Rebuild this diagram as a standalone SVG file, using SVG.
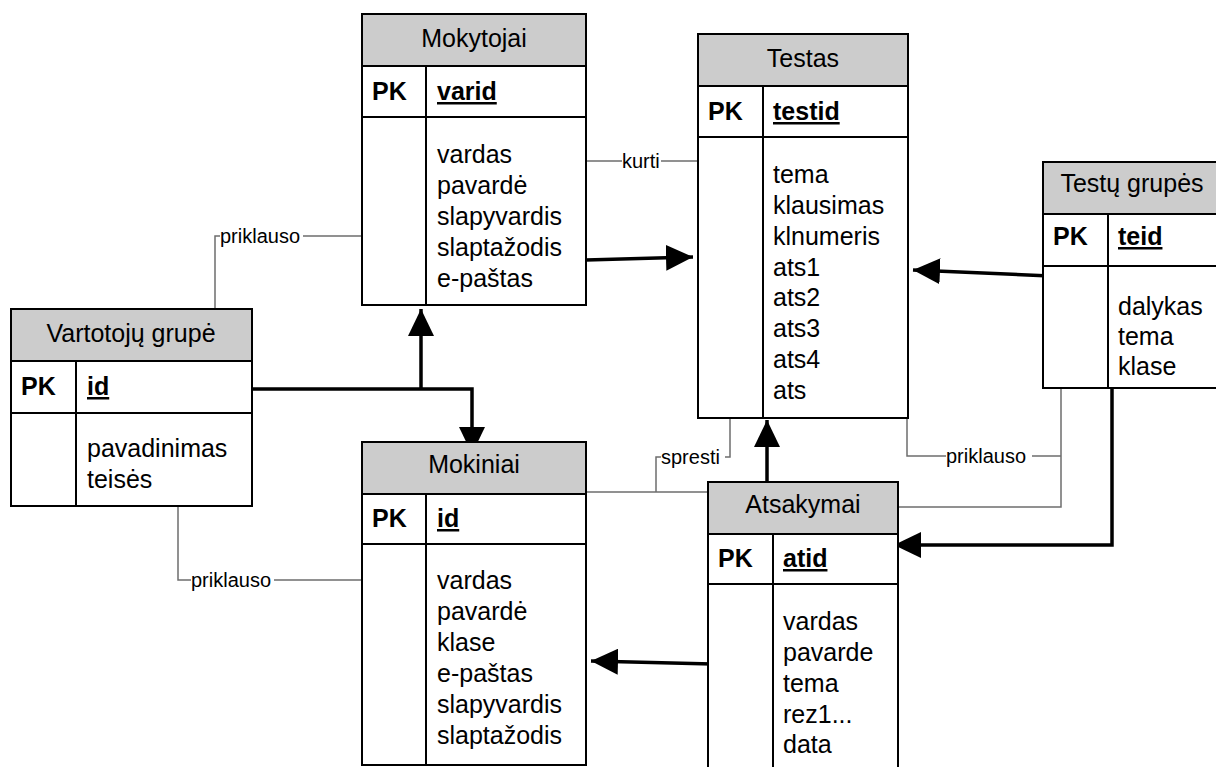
<svg xmlns="http://www.w3.org/2000/svg" width="1216" height="767" viewBox="0 0 1216 767">
<style>
.box{fill:#fff;stroke:#000;stroke-width:2}
.hdr{fill:#cccccc;stroke:#000;stroke-width:2}
.ln{stroke:#000;stroke-width:2;fill:none}
.t{font-family:"Liberation Sans",Arial,sans-serif;font-size:25px;fill:#000}
.c{text-anchor:middle}
.b{font-weight:bold}
.u{font-weight:bold;text-decoration:underline}
.thin{stroke:#6e6e6e;stroke-width:1.5;fill:none}
.thick{stroke:#000;stroke-width:3.5;fill:none}
.lbl{font-family:"Liberation Sans",Arial,sans-serif;font-size:20px;fill:#000}
</style>
<defs>
<marker id="ah" viewBox="0 0 27 26" refX="27" refY="13" markerWidth="27" markerHeight="26" markerUnits="userSpaceOnUse" orient="auto">
<path d="M0,0 L27,13 L0,26 Z" fill="#000"/>
</marker>
</defs>
<rect width="1216" height="767" fill="#fff"/>

<g id="connectors">
<!-- kurti -->
<path class="thin" d="M583,161 H622 M661,161 H700"/>
<text class="lbl" x="622" y="168">kurti</text>
<!-- priklauso upper -->
<path class="thin" d="M215,309 V236 H220 M303,236 H362"/>
<text class="lbl" x="220" y="243">priklauso</text>
<!-- priklauso lower -->
<path class="thin" d="M178,506 V580 H191 M274,580 H362"/>
<text class="lbl" x="191" y="587">priklauso</text>
<!-- spresti -->
<path class="thin" d="M586,492 H714 M656,492 V457 H661 M725,457 H730 V419"/>
<text class="lbl" x="661" y="464">spresti</text>
<!-- priklauso right -->
<path class="thin" d="M907,397 V456 H946 M1032,456 H1061 M1061,388 V507 H898"/>
<text class="lbl" x="946" y="463">priklauso</text>
<!-- thick arrows -->
<path class="thick" d="M252,389 H472 V454" marker-end="url(#ah)"/>
<path class="thick" d="M421,389 V309" marker-end="url(#ah)"/>
<path class="thick" d="M586,260 L693,257" marker-end="url(#ah)"/>
<path class="thick" d="M767,482 V420" marker-end="url(#ah)"/>
<path class="thick" d="M1050,276 L913,270" marker-end="url(#ah)"/>
<path class="thick" d="M1112,388 V545 H894" marker-end="url(#ah)"/>
<path class="thick" d="M712,664 L591,661" marker-end="url(#ah)"/>
</g>

<g id="mokytojai">
<rect class="box" x="362" y="14" width="224" height="291"/>
<rect class="hdr" x="362" y="14" width="224" height="52"/>
<path class="ln" d="M362,117 H586 M426,66 V305"/>
<text class="t c" x="474" y="47">Mokytojai</text>
<text class="t b" x="372" y="100">PK</text>
<text class="t u" x="437" y="100">varid</text>
<text class="t" x="437" y="163">vardas</text>
<text class="t" x="437" y="194">pavardė</text>
<text class="t" x="437" y="225">slapyvardis</text>
<text class="t" x="437" y="256">slaptažodis</text>
<text class="t" x="437" y="287">e-paštas</text>
</g>

<g id="testas">
<rect class="box" x="698" y="34" width="210" height="384"/>
<rect class="hdr" x="698" y="34" width="210" height="52"/>
<path class="ln" d="M698,137 H908 M763,86 V418"/>
<text class="t c" x="803" y="67">Testas</text>
<text class="t b" x="708" y="120">PK</text>
<text class="t u" x="773" y="120">testid</text>
<text class="t" x="773" y="183">tema</text>
<text class="t" x="773" y="214">klausimas</text>
<text class="t" x="773" y="245">klnumeris</text>
<text class="t" x="773" y="276">ats1</text>
<text class="t" x="773" y="306">ats2</text>
<text class="t" x="773" y="337">ats3</text>
<text class="t" x="773" y="368">ats4</text>
<text class="t" x="773" y="399">ats</text>
</g>

<g id="testu-grupes">
<rect class="box" x="1043" y="162" width="178" height="226"/>
<rect class="hdr" x="1043" y="162" width="178" height="52"/>
<path class="ln" d="M1043,266 H1221 M1108,214 V388"/>
<text class="t c" x="1132" y="192">Testų grupės</text>
<text class="t b" x="1053" y="245">PK</text>
<text class="t u" x="1118" y="245">teid</text>
<text class="t" x="1118" y="315">dalykas</text>
<text class="t" x="1118" y="345">tema</text>
<text class="t" x="1118" y="375">klase</text>
</g>

<g id="vartotoju-grupe">
<rect class="box" x="11" y="309" width="241" height="197"/>
<rect class="hdr" x="11" y="309" width="241" height="52"/>
<path class="ln" d="M11,413 H252 M76,361 V506"/>
<text class="t c" x="131" y="342">Vartotojų grupė</text>
<text class="t b" x="21" y="395">PK</text>
<text class="t u" x="87" y="395">id</text>
<text class="t" x="87" y="457">pavadinimas</text>
<text class="t" x="87" y="488">teisės</text>
</g>

<g id="mokiniai">
<rect class="box" x="362" y="442" width="224" height="323"/>
<rect class="hdr" x="362" y="442" width="224" height="52"/>
<path class="ln" d="M362,544 H586 M426,494 V765"/>
<text class="t c" x="474" y="473">Mokiniai</text>
<text class="t b" x="372" y="527">PK</text>
<text class="t u" x="437" y="527">id</text>
<text class="t" x="437" y="589">vardas</text>
<text class="t" x="437" y="620">pavardė</text>
<text class="t" x="437" y="651">klase</text>
<text class="t" x="437" y="682">e-paštas</text>
<text class="t" x="437" y="713">slapyvardis</text>
<text class="t" x="437" y="744">slaptažodis</text>
</g>

<g id="atsakymai">
<rect class="box" x="708" y="482" width="190" height="310"/>
<rect class="hdr" x="708" y="482" width="190" height="52"/>
<path class="ln" d="M708,584 H898 M773,534 V792"/>
<text class="t c" x="803" y="513">Atsakymai</text>
<text class="t b" x="718" y="567">PK</text>
<text class="t u" x="783" y="567">atid</text>
<text class="t" x="783" y="630">vardas</text>
<text class="t" x="783" y="661">pavarde</text>
<text class="t" x="783" y="692">tema</text>
<text class="t" x="783" y="723">rez1...</text>
<text class="t" x="783" y="753">data</text>
</g>
</svg>
